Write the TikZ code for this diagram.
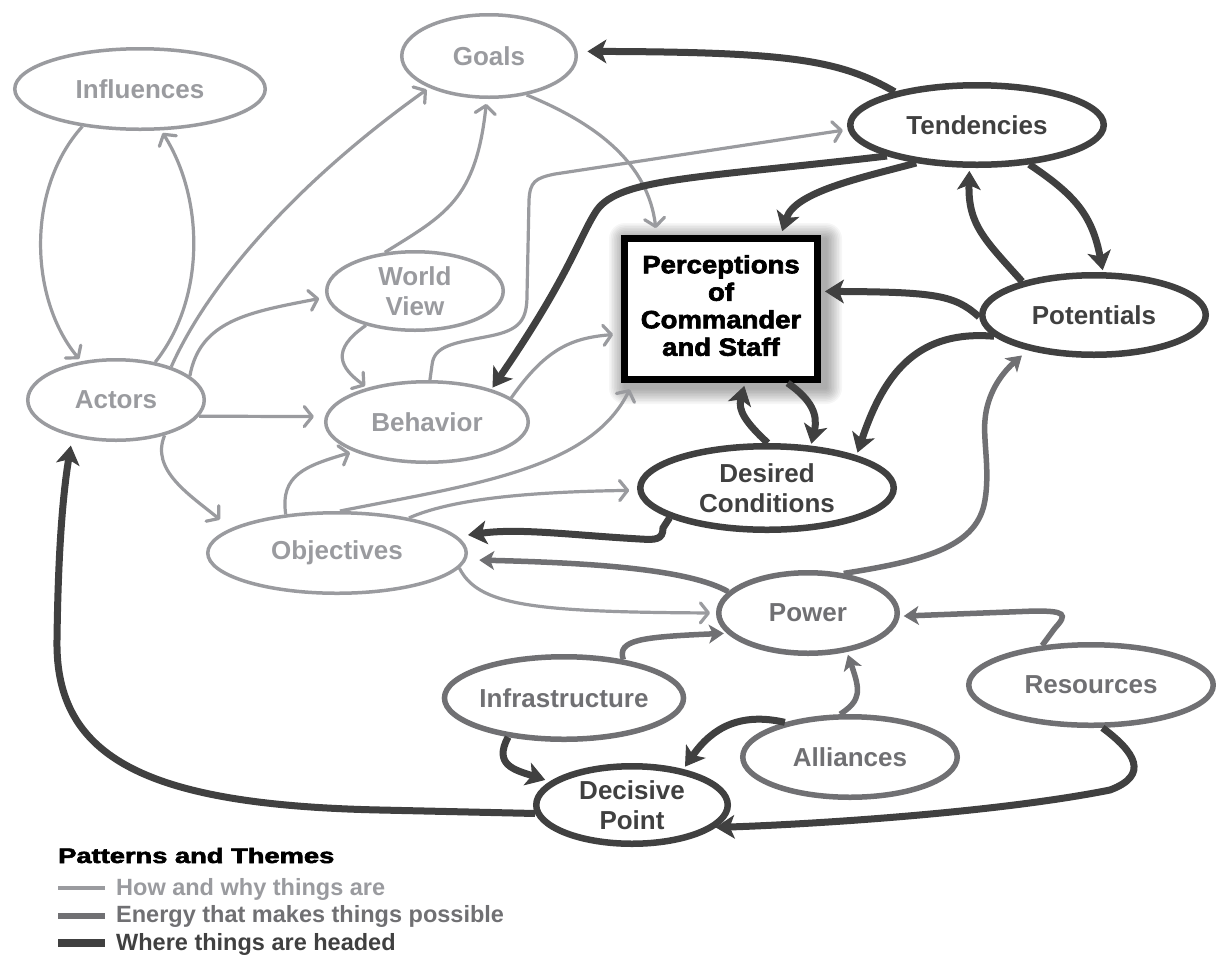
\documentclass[tikz,border=0pt]{standalone}
\usepackage{fontspec}
\setmainfont{Liberation Sans}
\newfontfamily\heavyfont[FakeBold=2.5]{Liberation Sans}
\usetikzlibrary{arrows.meta,shapes.geometric,calc}
\definecolor{lightc}{RGB}{154,155,159}
\definecolor{midc}{RGB}{112,112,115}
\definecolor{darkc}{RGB}{64,64,64}
\begin{document}
\begin{tikzpicture}[x=1pt,y=-1pt,
 nodefont/.style={font=\bfseries\fontsize{26}{29.5}\selectfont},
 lnode/.style={ellipse,draw=lightc,line width=3.5pt,text=lightc,nodefont,inner sep=0pt,align=center,fill=white},
 mnode/.style={ellipse,draw=midc,line width=5.5pt,text=midc,nodefont,inner sep=0pt,align=center,fill=white},
 dnode/.style={ellipse,draw=darkc,line width=6.5pt,text=darkc,nodefont,inner sep=0pt,align=center,fill=white},
 larr/.style={draw=lightc,line width=3.2pt,-{Straight Barb[length=8pt,width=20pt,round]}},
 marr/.style={draw=midc,line width=5.5pt,-{Stealth[length=15pt,width=19pt,inset=4pt,line width=1pt]}},
 darr/.style={draw=darkc,line width=7pt,-{Stealth[length=19pt,width=24pt,inset=5pt,line width=1pt]}},
 legtext/.style={anchor=base west,inner sep=0pt,font=\bfseries\fontsize{23.5}{26}\selectfont},
 ]
\fill[white] (0,0) rectangle (1216,954);
\useasboundingbox (0,0) rectangle (1216,954);

% shadow of the central box
\foreach \i in {1,...,10}{
  \pgfmathsetmacro\e{1.6*\i}
  \fill[black,opacity=0.035,rounded corners=\e pt] ({625-\e},{239-\e}) rectangle ({826+\e},{388+\e});
}

% nodes
\node[lnode,minimum width=250.5pt,minimum height=80.5pt] (infl) at (140,89) {Influences};
\node[lnode,minimum width=174.5pt,minimum height=82.5pt] (goals) at (489,56) {Goals};
\node[lnode,minimum width=176.5pt,minimum height=78.5pt] (wv) at (415,291) {World\\View};
\node[lnode,minimum width=176.5pt,minimum height=80.5pt] (act) at (116,400) {Actors};
\node[lnode,minimum width=202.5pt,minimum height=80.5pt] (beh) at (427,422) {Behavior};
\node[lnode,minimum width=258.5pt,minimum height=80.5pt] (obj) at (337,553) {Objectives};
\node[mnode,minimum width=178.5pt,minimum height=80.5pt] (pow) at (808,613) {Power};
\node[mnode,minimum width=238.5pt,minimum height=82.5pt] (infra) at (564,698) {Infrastructure};
\node[mnode,minimum width=244.5pt,minimum height=80.5pt] (res) at (1091,685) {Resources};
\node[mnode,minimum width=214.5pt,minimum height=80.5pt] (all) at (850,757) {Alliances};
\node[dnode,minimum width=253.5pt,minimum height=79.5pt] (tend) at (977,125) {Tendencies};
\node[dnode,minimum width=223.5pt,minimum height=79.5pt] (pot) at (1094,315) {Potentials};
\node[dnode,minimum width=253.5pt,minimum height=83.5pt] (des) at (767,488) {Desired\\Conditions};
\node[dnode,minimum width=191.5pt,minimum height=77.5pt] (dec) at (632,805) {Decisive\\Point};
\node[rectangle,draw=black,line width=7pt,fill=white,minimum width=193pt,minimum height=141pt,inner sep=0pt] (perc) at (721,309)
 {\heavyfont\bfseries\fontsize{25}{27.5}\selectfont\scalebox{1.1}[1]{\begin{tabular}{@{}c@{}}Perceptions\\of\\Commander\\and Staff\end{tabular}}};

% light connectors (how and why things are)
\draw[larr,shorten >=3pt] (infl.213) .. controls (25,190) and (30,300) .. (act.132);
\draw[larr,shorten >=3pt] (act.44) .. controls (205,300) and (205,200) .. (infl.297);
\draw[larr,shorten >=3pt] (act.31) .. controls (210,280) and (300,180) .. (goals.208);
\draw[larr,shorten >=7pt] (act.18) .. controls (200,320) and (250,312) .. (wv.184);
\draw[larr,shorten >=11pt] (act.349) -- (beh.177);
\draw[larr,shorten >=14pt] (act.324) .. controls (150,470) and (190,495) .. (obj.167);
\draw[larr,shorten >=3pt] (wv.215) .. controls (330,350) and (340,368) .. (beh.150);
\draw[larr,shorten >=5pt] (wv.128) .. controls (445,215) and (476,200) .. (goals.267);
\draw[larr,shorten >=7pt] (goals.314) .. controls (600,125) and (648,165) .. (perc.131);
\draw[larr,shorten >=5pt] (beh.86) -- (432,365) .. controls (434,345) and (455,343) .. (490,336) .. controls (520,330) and (527,320) .. (527,295) -- (529,200) .. controls (530,182) and (535,178) .. (555,174) -- (tend.182);
\draw[larr,shorten >=8pt] (beh.16) .. controls (545,350) and (570,338) .. (perc.194);
\draw[larr,shorten >=4pt] (obj.143) .. controls (280,475) and (305,466) .. (beh.202);
\draw[larr,shorten >=7pt] (obj.86) .. controls (470,485) and (590,470) .. (perc.220);
\draw[larr,shorten >=8pt] (obj.26) .. controls (450,500) and (520,492) .. (des.181);
\draw[larr,shorten >=6pt] (obj.353) .. controls (478,605) and (530,612) .. (pow.180);

% medium connectors (energy)
\draw[marr,shorten >=13pt] (pow.165) .. controls (690,570) and (600,563) .. (obj.357);
\draw[marr,shorten >=8pt] (pow.48) .. controls (930,560) and (978,545) .. (985,500) .. controls (990,470) and (983,440) .. (985,420) .. controls (987,395) and (1000,375) .. (pot.208);
\draw[marr,shorten >=3pt] (infra.33) .. controls (617,640) and (640,637) .. (pow.194);
\draw[marr,shorten >=4pt] (res.141) -- (1055,628) .. controls (1068,614) and (1065,611) .. (1035,611) -- (pow.358);
\draw[marr,shorten >=3pt] (all.103) .. controls (862,700) and (860,690) .. (pow.315);

% dark connectors (where things are headed)
\draw[darr,shorten >=10pt] (tend.158) .. controls (840,60) and (790,52) .. (goals.3);
\draw[darr,shorten >=2pt] (tend.199) .. controls (700,178) and (620,178) .. (597,210) .. controls (580,235) and (570,275) .. (beh.27);
\draw[darr,shorten >=4pt] (tend.212) .. controls (860,178) and (795,192) .. (perc.51);
\draw[darr,shorten >=2pt] (tend.323) .. controls (1075,195) and (1092,215) .. (pot.78);
\draw[darr,shorten >=3pt] (pot.155) .. controls (985,240) and (968,225) .. (tend.260);
\draw[darr,shorten >=4pt] (pot.181) .. controls (955,295) and (935,292) .. (perc.10);
\draw[darr,shorten >=3pt] (pot.192) .. controls (920,330) and (885,370) .. (des.20);
\draw[darr,shorten >=2pt] (perc.312) .. controls (812,400) and (818,415) .. (des.44);
\draw[darr,shorten >=3pt] (des.89) .. controls (745,422) and (738,410) .. (perc.288);
\draw[darr] (des.197) -- (663,528) .. controls (663,540) and (655,540) .. (640,539) .. controls (570,535) and (520,528) .. ([yshift=18pt]obj.east);
\draw[darr,shorten >=5pt] (infra.215) .. controls (493,765) and (515,770) .. (dec.164);
\draw[darr,shorten >=3pt] (all.152) .. controls (740,712) and (712,728) .. (dec.35);
\draw[darr] (res.285) .. controls (1135,752) and (1150,775) .. (1110,790) .. controls (1000,812) and (820,824) .. (dec.345);
\draw[darr,shorten >=9pt] (dec.185) -- (380,810) .. controls (150,805) and (55,760) .. (57,640) .. controls (58,560) and (62,500) .. (act.220);

% legend
\node[anchor=base west,inner sep=0pt,font=\heavyfont\bfseries\fontsize{21}{24}\selectfont] (legtitle) at (58,863) {\scalebox{1.3}[1]{Patterns and Themes}};
\fill[lightc] (58,886) rectangle (105,890);
\fill[midc] (58,913) rectangle (105,919);
\fill[darkc] (58,939) rectangle (105,947);
\node[legtext,text=lightc] (leg1) at (116,895) {How and why things are};
\node[legtext,text=midc] (leg2) at (116,922) {Energy that makes things possible};
\node[legtext,text=darkc] (leg3) at (116,950) {Where things are headed};
\end{tikzpicture}
\end{document}
